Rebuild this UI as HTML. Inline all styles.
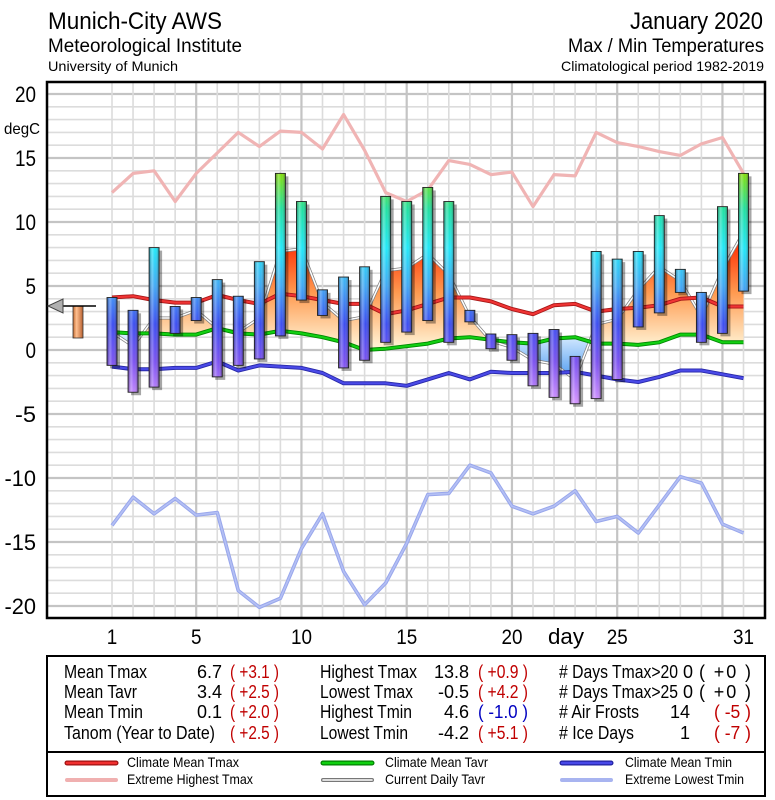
<!DOCTYPE html>
<html><head><meta charset="utf-8"><style>
html,body{margin:0;padding:0;background:#fff;}
svg{display:block;font-family:"Liberation Sans",sans-serif;}
</style></head><body>
<svg id="chart" width="775" height="800" viewBox="0 0 775 800" xmlns="http://www.w3.org/2000/svg">
<defs>
<linearGradient id="barGrad" gradientUnits="userSpaceOnUse" x1="0" y1="171" x2="0" y2="401">
<stop offset="0" stop-color="#8ae000"/><stop offset="0.165" stop-color="#20e0a0"/><stop offset="0.335" stop-color="#20e8f8"/><stop offset="0.5" stop-color="#40a8f4"/><stop offset="0.665" stop-color="#3a4cf0"/><stop offset="0.83" stop-color="#7a50f0"/><stop offset="1" stop-color="#d090ff"/>
</linearGradient>
<linearGradient id="cyl" x1="0" y1="0" x2="1" y2="0">
<stop offset="0" stop-color="#000" stop-opacity="0.35"/><stop offset="0.3" stop-color="#fff" stop-opacity="0.3"/><stop offset="0.6" stop-color="#fff" stop-opacity="0"/><stop offset="1" stop-color="#000" stop-opacity="0.4"/>
</linearGradient>
<linearGradient id="warmGrad" gradientUnits="userSpaceOnUse" x1="0" y1="240" x2="0" y2="345">
<stop offset="0" stop-color="#ff2a00"/><stop offset="0.5" stop-color="#ff9a50"/><stop offset="1" stop-color="#fff0d0"/>
</linearGradient>
<linearGradient id="coldGrad" gradientUnits="userSpaceOnUse" x1="0" y1="335" x2="0" y2="380">
<stop offset="0" stop-color="#d8ecff"/><stop offset="1" stop-color="#4a98f0"/>
</linearGradient>
<linearGradient id="leftBar" x1="0" y1="0" x2="1" y2="0">
<stop offset="0" stop-color="#c06830"/><stop offset="0.35" stop-color="#ffc090"/><stop offset="1" stop-color="#b86030"/>
</linearGradient>
<clipPath id="clipAbove"><polygon id="clipAbovePoly"/></clipPath>
<clipPath id="clipBelow"><polygon id="clipBelowPoly"/></clipPath>
</defs>

<g fill="#000">
<text x="48" y="29" font-size="24" textLength="174" lengthAdjust="spacingAndGlyphs">Munich-City AWS</text>
<text x="48" y="52" font-size="19" textLength="194" lengthAdjust="spacingAndGlyphs">Meteorological Institute</text>
<text x="48" y="71" font-size="14" textLength="130" lengthAdjust="spacingAndGlyphs">University of Munich</text>
<text x="630" y="29" font-size="24" textLength="133" lengthAdjust="spacingAndGlyphs">January 2020</text>
<text x="568" y="52" font-size="19" textLength="196" lengthAdjust="spacingAndGlyphs">Max / Min Temperatures</text>
<text x="561" y="71" font-size="14" textLength="203" lengthAdjust="spacingAndGlyphs">Climatological period 1982-2019</text>
</g>

<g id="grid"></g>
<g id="fills"></g>
<g id="lines"></g>
<g id="bars"></g>
<g id="axes"></g>

<g>
<rect x="73" y="306" width="10" height="32" fill="url(#leftBar)" stroke="#333" stroke-width="0.8"/>
<line x1="58" y1="306" x2="96" y2="306" stroke="#000" stroke-width="1.5"/>
<polygon points="48,306 63,299 63,313" fill="#b0b0b0" stroke="#444" stroke-width="1"/>
</g>

<g font-size="18" fill="#000">
<rect x="47" y="656" width="718" height="140" fill="#fff" stroke="#000" stroke-width="2"/>
<line x1="47" y1="752" x2="765" y2="752" stroke="#000" stroke-width="2"/>
<g transform="translate(64,0)">
<text x="0" y="678" textLength="83" lengthAdjust="spacingAndGlyphs">Mean Tmax</text>
<text x="0" y="698" textLength="73" lengthAdjust="spacingAndGlyphs">Mean Tavr</text>
<text x="0" y="718" textLength="79" lengthAdjust="spacingAndGlyphs">Mean Tmin</text>
<text x="0" y="739" textLength="151" lengthAdjust="spacingAndGlyphs">Tanom (Year to Date)</text>
</g>
<g text-anchor="end">
<text x="222" y="678">6.7</text><text x="222" y="698">3.4</text><text x="222" y="718">0.1</text>
<text x="469" y="678">13.8</text><text x="469" y="698">-0.5</text><text x="469" y="718">4.6</text><text x="469" y="739">-4.2</text>
<text x="693" y="678">0</text><text x="693" y="698">0</text><text x="690" y="718">14</text><text x="690" y="739">1</text>
</g>
<g fill="#c00000">
<text x="230" y="678" textLength="49" lengthAdjust="spacingAndGlyphs">( +3.1 )</text>
<text x="230" y="698" textLength="49" lengthAdjust="spacingAndGlyphs">( +2.5 )</text>
<text x="230" y="718" textLength="49" lengthAdjust="spacingAndGlyphs">( +2.0 )</text>
<text x="230" y="739" textLength="49" lengthAdjust="spacingAndGlyphs">( +2.5 )</text>
<text x="478" y="678" textLength="50" lengthAdjust="spacingAndGlyphs">( +0.9 )</text>
<text x="478" y="698" textLength="50" lengthAdjust="spacingAndGlyphs">( +4.2 )</text>
<text x="478" y="718" textLength="50" lengthAdjust="spacingAndGlyphs" fill="#0000c0">( -1.0 )</text>
<text x="478" y="739" textLength="50" lengthAdjust="spacingAndGlyphs">( +5.1 )</text>
<text x="714" y="718" textLength="37" lengthAdjust="spacingAndGlyphs">( -5 )</text>
<text x="714" y="739" textLength="37" lengthAdjust="spacingAndGlyphs">( -7 )</text>
</g>
<text x="699" y="678" textLength="52" lengthAdjust="spacing">( +0 )</text>
<text x="699" y="698" textLength="52" lengthAdjust="spacing">( +0 )</text>
<g transform="translate(559,0)">
<text x="0" y="678" textLength="119" lengthAdjust="spacingAndGlyphs"># Days Tmax&gt;20</text>
<text x="0" y="698" textLength="119" lengthAdjust="spacingAndGlyphs"># Days Tmax&gt;25</text>
<text x="0" y="718" textLength="80" lengthAdjust="spacingAndGlyphs"># Air Frosts</text>
<text x="0" y="739" textLength="75" lengthAdjust="spacingAndGlyphs"># Ice Days</text>
</g>
<g transform="translate(320,0)">
<text x="0" y="678" textLength="97" lengthAdjust="spacingAndGlyphs">Highest Tmax</text>
<text x="0" y="698" textLength="93" lengthAdjust="spacingAndGlyphs">Lowest Tmax</text>
<text x="0" y="718" textLength="92" lengthAdjust="spacingAndGlyphs">Highest Tmin</text>
<text x="0" y="739" textLength="88" lengthAdjust="spacingAndGlyphs">Lowest Tmin</text>
</g>
</g>

<g font-size="14">
<g><line x1="67" y1="763" x2="116" y2="763" stroke="#a01010" stroke-width="5" stroke-linecap="round"/><line x1="67" y1="763" x2="116" y2="763" stroke="#f03030" stroke-width="2.5" stroke-linecap="round"/><text x="127" y="767" textLength="112" lengthAdjust="spacingAndGlyphs">Climate Mean Tmax</text></g>
<g><line x1="67" y1="780" x2="116" y2="780" stroke="#f0b0b0" stroke-width="4" stroke-linecap="round"/><text x="127" y="784" textLength="126" lengthAdjust="spacingAndGlyphs">Extreme Highest Tmax</text></g>
<g><line x1="323" y1="763" x2="372" y2="763" stroke="#008000" stroke-width="5" stroke-linecap="round"/><line x1="323" y1="763" x2="372" y2="763" stroke="#10d010" stroke-width="2.5" stroke-linecap="round"/><text x="385" y="767" textLength="103" lengthAdjust="spacingAndGlyphs">Climate Mean Tavr</text></g>
<g><line x1="323" y1="780" x2="372" y2="780" stroke="#777" stroke-width="4" stroke-linecap="round"/><line x1="323" y1="780" x2="372" y2="780" stroke="#fff" stroke-width="1.6" stroke-linecap="round"/><text x="385" y="784" textLength="100" lengthAdjust="spacingAndGlyphs">Current Daily Tavr</text></g>
<g><line x1="562" y1="763" x2="611" y2="763" stroke="#2020a0" stroke-width="5" stroke-linecap="round"/><line x1="562" y1="763" x2="611" y2="763" stroke="#4848e8" stroke-width="2.5" stroke-linecap="round"/><text x="625" y="767" textLength="107" lengthAdjust="spacingAndGlyphs">Climate Mean Tmin</text></g>
<g><line x1="562" y1="780" x2="611" y2="780" stroke="#a8b4f0" stroke-width="4" stroke-linecap="round"/><text x="625" y="784" textLength="119" lengthAdjust="spacingAndGlyphs">Extreme Lowest Tmin</text></g>
</g>
</svg>
<script>
const days = [1,2,3,4,5,6,7,8,9,10,11,12,13,14,15,16,17,18,19,20,21,22,23,24,25,26,27,28,29,30,31];
const tmax = [4.1,3.1,8.0,3.4,4.1,5.5,4.2,6.9,13.8,11.6,4.7,5.7,6.5,12.0,11.6,12.7,11.6,3.1,1.25,1.2,1.3,1.6,-0.5,7.7,7.1,7.7,10.5,6.3,4.5,11.2,13.8];
const tmin = [-1.2,-3.3,-2.9,1.3,2.3,-2.1,-1.2,-0.7,1.1,3.9,2.7,-1.4,-0.8,0.6,1.4,2.3,0.6,2.2,0.1,-0.8,-2.8,-3.7,-4.2,-3.8,-2.3,1.8,2.9,4.5,0.6,1.3,4.6];
const tavr = [1.4,0.3,2.5,2.5,3.1,1.7,1.4,2.5,7.7,7.9,3.7,2.3,2.6,6.2,6.4,7.5,5.9,2.6,0.7,0.2,-0.8,-1.1,-2.3,2.0,2.4,4.7,6.5,5.4,2.6,6.3,9.2];
const climTmax = [4.1,4.2,3.9,3.7,3.7,4.3,3.9,3.6,4.4,4.2,3.9,3.6,3.6,2.8,3.1,3.6,4.1,4.1,3.8,3.2,2.8,3.5,3.6,3.0,3.2,3.3,3.5,4.0,4.1,3.4,3.4];
const climTavr = [1.4,1.3,1.3,1.2,1.2,1.7,1.3,1.2,1.5,1.3,1.0,0.6,0.0,0.1,0.3,0.5,0.9,1.0,0.8,0.6,0.5,0.9,1.0,0.5,0.5,0.4,0.6,1.2,1.2,0.6,0.6];
const climTmin = [-1.3,-1.5,-1.5,-1.4,-1.4,-0.9,-1.6,-1.2,-1.3,-1.4,-1.8,-2.6,-2.6,-2.6,-2.8,-2.3,-1.8,-2.3,-1.7,-1.8,-1.8,-1.8,-1.7,-2.0,-2.3,-2.5,-2.1,-1.6,-1.6,-1.9,-2.2];
const extHigh = [12.3,13.8,14.0,11.6,13.8,15.4,17.0,15.9,17.1,17.0,15.7,18.4,15.6,12.3,11.6,12.5,14.8,14.5,13.7,13.9,11.2,13.7,13.6,17.0,16.2,15.9,15.5,15.2,16.1,16.6,13.8];
const extLow = [-13.7,-11.5,-12.8,-11.6,-12.9,-12.7,-18.8,-20.1,-19.4,-15.5,-12.8,-17.3,-19.9,-18.2,-15.1,-11.3,-11.2,-9.0,-9.6,-12.2,-12.8,-12.2,-11.0,-13.4,-13.0,-14.3,-12.1,-9.9,-10.4,-13.6,-14.3];
const yTicks = [20,15,10,5,0,-5,-10,-15,-20];
const xTicks = [1,5,10,15,20,25,31];

const NS = 'http://www.w3.org/2000/svg';
const PL = 47, PR = 765, PT = 82, PB = 618;
function xs(d){ return 112 + 21.05*(d-1); }
function ys(v){ return 350 - 12.8*v; }
function mk(tag, parent, attrs){ const e=document.createElementNS(NS,tag); for(const k in attrs) e.setAttribute(k,attrs[k]); parent.appendChild(e); return e; }
function pts(arr){ return arr.map((v,i)=>xs(days[i]).toFixed(1)+','+ys(v).toFixed(1)).join(' '); }

const grid = document.getElementById('grid');
for(let v=-20; v<=20; v++){
  const major = v%5===0;
  const l = mk('line', grid, {x1:PL,x2:PR,y1:ys(v),y2:ys(v),stroke:major?'#c4c4c4':'#dcdcdc','stroke-width':major?2.2:1.6});
  
  
}
for(let d=1; d<=32; d++){
  const major = d%5===0;
  const l = mk('line', grid, {x1:xs(d),x2:xs(d),y1:PT,y2:PB,stroke:major?'#c4c4c4':'#dcdcdc','stroke-width':major?2.2:1.6});
  
  
}

const greenPts = pts(climTavr);
document.getElementById('clipAbovePoly').setAttribute('points', xs(1)+','+PT+' '+greenPts+' '+xs(31)+','+PT);
document.getElementById('clipBelowPoly').setAttribute('points', xs(1)+','+PB+' '+greenPts+' '+xs(31)+','+PB);
const revGreen = climTavr.map((v,i)=>xs(days[i]).toFixed(1)+','+ys(v).toFixed(1)).reverse().join(' ');
const fills = document.getElementById('fills');
const warm = mk('polygon', fills, {points: pts(tavr)+' '+revGreen, fill:'url(#warmGrad)', 'clip-path':'url(#clipAbove)'});


const cold = mk('polygon', fills, {points: pts(tavr)+' '+revGreen, fill:'url(#coldGrad)', 'clip-path':'url(#clipBelow)'});



const lines = document.getElementById('lines');
function series(arr, name, outer, ow, inner, iw){
  const g = mk('g', lines, {});
  
  
  mk('polyline', g, {points:pts(arr), fill:'none', stroke:outer, 'stroke-width':ow, 'stroke-linejoin':'round'});
  if(inner) mk('polyline', g, {points:pts(arr), fill:'none', stroke:inner, 'stroke-width':iw, 'stroke-linejoin':'round'});
}
series(extHigh, 'extreme-highest-tmax-line', '#f0b4b4', 3.2, null, 0);
series(extLow, 'extreme-lowest-tmin-line', '#98a6ec', 3.6, '#b4c0f4', 1.6);
series(tavr, 'current-daily-tavr-line', '#808080', 3, '#ffffff', 1.5);
series(climTmin, 'climate-mean-tmin-line', '#2828a8', 4, '#4a4ae8', 2.2);
series(climTavr, 'climate-mean-tavr-line', '#008800', 4, '#12d012', 2.2);
series(climTmax, 'climate-mean-tmax-line', '#a81818', 4, '#f03434', 2.2);

const bars = document.getElementById('bars');
days.forEach((d,i)=>{
  const g = mk('g', bars, {});
  
  
  const x = xs(d)-5, y1 = ys(tmax[i]), y2 = ys(tmin[i]);
  mk('rect', g, {x:x+3, y:y1+3, width:10, height:y2-y1, fill:'#000', opacity:0.35});
  mk('rect', g, {x:x, y:y1, width:10, height:y2-y1, fill:'url(#barGrad)'});
  mk('rect', g, {x:x, y:y1, width:10, height:y2-y1, fill:'url(#cyl)', stroke:'#222', 'stroke-width':0.9});
});

const axes = document.getElementById('axes');
const frame = mk('rect', axes, {x:PL, y:PT, width:PR-PL, height:PB-PT, fill:'none', stroke:'#000', 'stroke-width':2.5});


yTicks.forEach(v=>{
  const t = mk('text', axes, {x:36, y:ys(v)+8, 'font-size':22, 'text-anchor':'end', textLength: (String(v).length*10.5), lengthAdjust:'spacingAndGlyphs'});
  t.textContent = v;
  
  
});
const unit = mk('text', axes, {x:4, y:134, 'font-size':16, textLength:36, lengthAdjust:'spacingAndGlyphs'});
unit.textContent = 'degC';


xTicks.forEach(d=>{
  const s = String(d);
  const t = mk('text', axes, {x:xs(d), y:644, 'font-size':21, 'text-anchor':'middle', textLength:s.length*10.5, lengthAdjust:'spacingAndGlyphs'});
  t.textContent = s;
  
  
});
const dl = mk('text', axes, {x:566, y:644, 'font-size':22, 'text-anchor':'middle', textLength:36, lengthAdjust:'spacingAndGlyphs'});
dl.textContent = 'day';


</script>
</body></html>
